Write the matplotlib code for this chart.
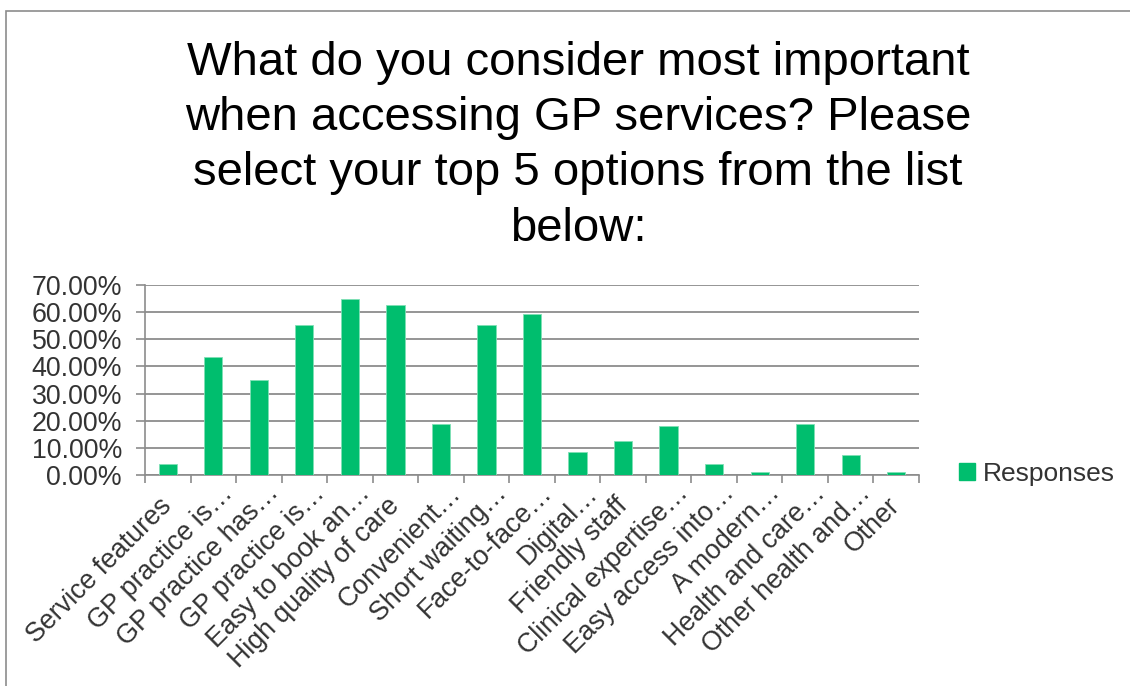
import matplotlib
matplotlib.use('Agg')
import matplotlib.pyplot as plt
from matplotlib.patches import Rectangle, Patch
from matplotlib.ticker import FuncFormatter, FixedLocator
from matplotlib.transforms import ScaledTranslation

plt.rcParams['font.family'] = ['Liberation Sans', 'DejaVu Sans']

TITLE = ("What do you consider most important\n"
         "when accessing GP services? Please\n"
         "select your top 5 options from the list\n"
         "below:")

categories = [
    "Service features", "GP practice is…", "GP practice has…", "GP practice is…",
    "Easy to book an…", "High quality of care", "Convenient…", "Short waiting…",
    "Face-to-face…", "Digital…", "Friendly staff", "Clinical expertise…",
    "Easy access into…", "A modern…", "Health and care…", "Other health and…",
    "Other",
]
responses = [4.05, 43.4, 35.0, 55.2, 64.7, 62.7, 18.8, 55.2, 59.5,
             8.4, 12.5, 17.9, 4.05, 1.0, 18.8, 7.4, 1.0]

BAR = '#00BE6E'
GRID = '#8C8C8C'
TXT = '#333333'
FS = 19.3

W, H = 1130, 686
fig = plt.figure(figsize=(W / 100, H / 100), dpi=100)
fig.patch.set_facecolor('white')

# outer frame, runs off the right and bottom edges
fig.add_artist(Rectangle((6 / W, -0.1), 1.2, 1 - 11 / H + 0.1,
                         transform=fig.transFigure, fill=False,
                         edgecolor='#8C8C8C', lw=1.2))

fig.text(578 / W, 1 - 41 / H, TITLE, ha='center', va='top',
         fontsize=34, color='black', linespacing=1.33)

ax = fig.add_axes([145 / W, 1 - 475 / H, (919 - 145) / W, (475 - 285) / H])
x = range(len(categories))
ax.bar(x, responses, width=0.4, color=BAR, edgecolor='#7FE0B5', lw=0.6,
       zorder=3, label='Responses')

ax.set_xlim(-0.5, len(categories) - 0.5)
ax.set_ylim(0, 70)
ax.set_yticks(range(0, 71, 10))
ax.yaxis.set_major_formatter(FuncFormatter(lambda v, _: f'{v:.2f}%'))
ax.yaxis.grid(True, color=GRID, lw=1.3, zorder=0)
ax.set_axisbelow(True)

ax.set_xticks(list(x))
ax.set_xticklabels(categories, rotation=45, ha='right', va='top',
                   rotation_mode='anchor', fontsize=FS, color=TXT)
ax.tick_params(axis='x', which='major', length=0, pad=0)
# truncated labels hug the axis, full ones sit a bit lower
for lbl in ax.get_xticklabels():
    if lbl.get_text().endswith('…'):
        dx, dy = 0.07, -0.05
    else:
        dx, dy = -0.09, -0.18
    lbl.set_transform(lbl.get_transform() + ScaledTranslation(dx, dy, fig.dpi_scale_trans))
ax.xaxis.set_minor_locator(FixedLocator([i - 0.5 for i in range(len(categories) + 1)]))
ax.tick_params(axis='x', which='minor', length=6, width=1.2, color=GRID)
ax.tick_params(axis='y', length=6.5, width=1.2, color=GRID,
               labelsize=FS, labelcolor=TXT, pad=10)

for side in ('top', 'right'):
    ax.spines[side].set_visible(False)
for side in ('left', 'bottom'):
    ax.spines[side].set_color(GRID)
    ax.spines[side].set_linewidth(1.2)

handle = Patch(facecolor=BAR, edgecolor=BAR)
fig.legend([handle], ['Responses'], loc='center left',
           bbox_to_anchor=(959 / W, 1 - 474 / H), frameon=False,
           fontsize=19, labelcolor=TXT, handlelength=0.6, handleheight=0.6,
           handletextpad=0.3, borderpad=0, borderaxespad=0)

fig.savefig('out.png', dpi=100, facecolor='white')
